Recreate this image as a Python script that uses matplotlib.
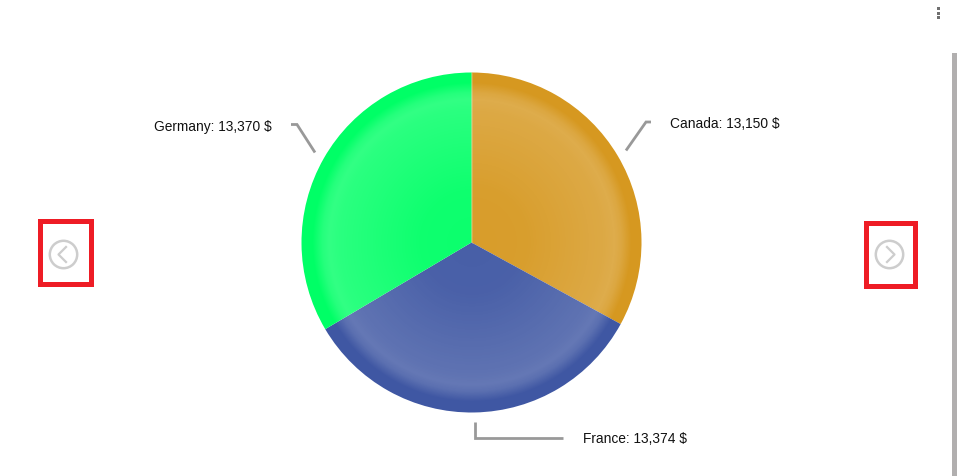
import matplotlib
matplotlib.use("Agg")
import matplotlib.pyplot as plt
import numpy as np
from matplotlib.patches import Circle, Rectangle

plt.rcParams['font.family'] = ['Liberation Sans', 'DejaVu Sans']

countries = ['Canada', 'France', 'Germany']
sales = [13150, 13374, 13370]
colors = ['#d69820', '#3f57a3', '#00ff66']

# page is laid out in screen pixels, y going down
WIDTH, HEIGHT = 957, 477
CX, CY, R = 471.5, 243.5, 170
GREY = '#999999'
ICON = '#cdcdcd'
RED = '#ee1c25'


def label_text(name, value):
    return '{}: {:,} $'.format(name, value)


fig = plt.figure(figsize=(WIDTH / 100, HEIGHT / 100), dpi=100)
ax = fig.add_axes([0, 0, 1, 1])

# y axis is inverted, so counterclock here reads clockwise on screen
wedges, _ = ax.pie(sales, colors=colors, center=(CX, CY), radius=R, startangle=-90,
                   counterclock=True, wedgeprops={'edgecolor': 'none'})

# bevel: soft white ring close to the rim
yy, xx = np.mgrid[CY - R:CY + R:700j, CX - R:CX + R:700j]
rr = np.hypot(xx - CX, yy - CY) / R
alpha = np.interp(rr, [0, 0.3, 0.78, 0.84, 0.88, 0.94, 1.0], [0.05, 0.06, 0.17, 0.2, 0.15, 0.0, 0.0])
shade = np.ones(rr.shape + (4,))
shade[..., 3] = alpha
im = ax.imshow(shade, extent=(CX - R, CX + R, CY + R, CY - R), zorder=3, interpolation='bilinear')
im.set_clip_path(Circle((CX, CY), R, transform=ax.transData))

# thin light seam at the top of the pie
ax.plot([CX, CX], [CY - R, CY], color='white', lw=0.4, alpha=0.3, zorder=4)

# leader lines and labels
leaders = [
    ([626, 646, 651], [151.5, 123, 123]),
    ([474.5, 474.5, 563], [423, 438.5, 438.5]),
    ([315, 297, 291], [153.5, 125.5, 125.5]),
]
label_pos = [(670.5, 123.5, 'left'), (583, 439, 'left'), (271.5, 127, 'right')]
for i, name in enumerate(countries):
    ax.plot(leaders[i][0], leaders[i][1], color=GREY, lw=2.0, solid_joinstyle='miter',
            solid_capstyle='butt', zorder=2)
    x, y, ha = label_pos[i]
    ax.text(x, y, label_text(name, sales[i]), fontsize=9.9, color='#111111', ha=ha, va='center')

# red boxes with the carousel arrows
ax.add_patch(Rectangle((39.5, 221.5), 51, 63, fill=False, ec=RED, lw=3.6, joinstyle='miter'))
ax.add_patch(Rectangle((865.5, 223.5), 49, 63, fill=False, ec=RED, lw=3.6, joinstyle='miter'))

ax.add_patch(Circle((63.5, 255.5), 13.7, fill=False, ec=ICON, lw=1.8))
ax.add_patch(Circle((889.5, 255.5), 13.7, fill=False, ec=ICON, lw=1.8))
ax.plot([66, 58.5, 66], [248, 255.5, 263], color=ICON, lw=1.6)
ax.plot([887, 894.5, 887], [248, 255.5, 263], color=ICON, lw=1.6)

# menu dots and scrollbar
for y in [8, 12.5, 17]:
    ax.add_patch(Rectangle((937, y), 3, 3, fc='#707070', ec='none'))
ax.add_patch(Rectangle((952, 54), 5, HEIGHT - 54, fc='#b1afaf', ec='none'))

ax.set_xlim(0, WIDTH)
ax.set_ylim(HEIGHT, 0)
ax.set_aspect('auto')
ax.axis('off')

fig.savefig('out.png', dpi=100, facecolor='white')
